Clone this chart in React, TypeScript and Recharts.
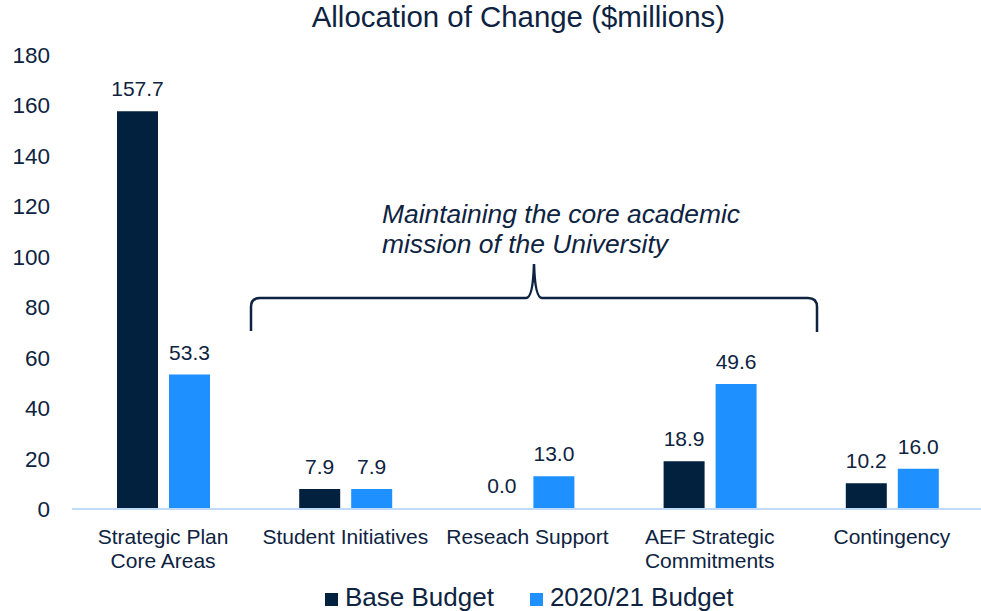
import React from 'react';
import { BarChart, Bar, XAxis, YAxis, Legend, LabelList, Rectangle } from 'recharts';

const categories = ['Strategic Plan\nCore Areas', 'Student Initiatives', 'Reseach Support', 'AEF Strategic\nCommitments', 'Contingency'];
const baseBudget = [157.7, 7.9, 0.0, 18.9, 10.2];
const budget2021 = [53.3, 7.9, 13.0, 49.6, 16.0];
const yTicks = [0, 20, 40, 60, 80, 100, 120, 140, 160, 180];
const seriesNames = ['Base Budget', '2020/21 Budget'];

const NAVY = '#0d2341';
const DARK_BAR = '#02213f';
const LIGHT_BAR = '#1e90ff';
const FONT = '"Liberation Sans", Arial, sans-serif';

const data = categories.map((name, i) => ({
  name,
  base: baseBudget[i],
  b2021: budget2021[i]
}));

function CategoryTick({ x, y, payload }: any) {
  const lines = String(payload.value).split('\n');
  return <text x={x} y={y + 33} textAnchor="middle" fill={NAVY} fontSize={21} fontFamily={FONT}>
      {lines.map((line, i) => <tspan key={i} x={x} dy={i === 0 ? 0 : 23.5}>{line}</tspan>)}
    </text>;
}

// zero-value bars get a 1px min size so their label still shows; don't draw them
function BarShape(props: any) {
  if (!props.height || props.height < 2) return <g />;
  return <Rectangle {...props} />;
}

function LegendContent({ payload }: any) {
  const items = [...(payload || [])].sort((a: any, b: any) => seriesNames.indexOf(a.value) - seriesNames.indexOf(b.value));
  return <div style={{ display: 'flex', fontFamily: FONT, fontSize: 26, lineHeight: '30px', color: NAVY, whiteSpace: 'nowrap' }}>
      {items.map((p: any, i: number) => <div key={i} style={{ display: 'flex', alignItems: 'flex-start', marginLeft: i === 0 ? 0 : 36 }}>
          <span style={{ display: 'inline-block', width: 13, height: 13, background: p.color, marginTop: 11, marginRight: 7 }} />
          <span>{p.value}</span>
        </div>)}
    </div>;
}

export default function App() {
  return <div style={{ position: 'absolute', left: 0, top: 0, width: 981, height: 611, overflow: 'hidden', background: '#fff' }}>
      <BarChart width={984} height={611} data={data} margin={{ top: 55, right: 1, left: 0, bottom: 42 }} barSize={41} barGap={11}>
        <XAxis dataKey="name" height={60} tickLine={false} tickSize={0} tick={<CategoryTick />} axisLine={{ stroke: '#bfdbf7', strokeWidth: 2 }} interval={0} />
        <YAxis width={72} domain={[0, 180]} ticks={yTicks} axisLine={false} tickLine={false} tickSize={0} tickMargin={22} tick={{ fill: NAVY, fontSize: 22.5, fontFamily: FONT }} />
        <Legend verticalAlign="middle" layout="horizontal" content={<LegendContent />} wrapperStyle={{ top: 582, left: 325, width: 'auto' }} />
        <Bar dataKey="base" name="Base Budget" fill={DARK_BAR} minPointSize={1} shape={<BarShape />} isAnimationActive={false}>
          <LabelList dataKey="base" position="top" offset={15} fill={NAVY} fontSize={21} fontFamily={FONT} formatter={(v: any) => Number(v).toFixed(1)} />
        </Bar>
        <Bar dataKey="b2021" name="2020/21 Budget" fill={LIGHT_BAR} isAnimationActive={false}>
          <LabelList dataKey="b2021" position="top" offset={15} fill={NAVY} fontSize={21} fontFamily={FONT} formatter={(v: any) => Number(v).toFixed(1)} />
        </Bar>
      </BarChart>
      <svg width={981} height={611} style={{ position: 'absolute', left: 0, top: 0, pointerEvents: 'none' }}>
        <text x={518.4} y={27} textAnchor="middle" fill={NAVY} fontSize={29.4} fontFamily={FONT}>
          Allocation of Change ($millions)
        </text>
        <text x={382} y={223} fill={NAVY} fontSize={26.4} fontStyle="italic" fontFamily={FONT}>
          <tspan x={382}>Maintaining the core academic</tspan>
          <tspan x={382} dy={30}>mission of the University</tspan>
        </text>
        {/* curly brace over the middle categories */}
        <path d="M251,331 L251,307 Q251,298 260,298 L526,298 Q533,298 534,264 Q535,298 542,298 L808,298 Q817,298 817,307 L817,332" fill="none" stroke={NAVY} strokeWidth={2.5} />
      </svg>
    </div>;
}
